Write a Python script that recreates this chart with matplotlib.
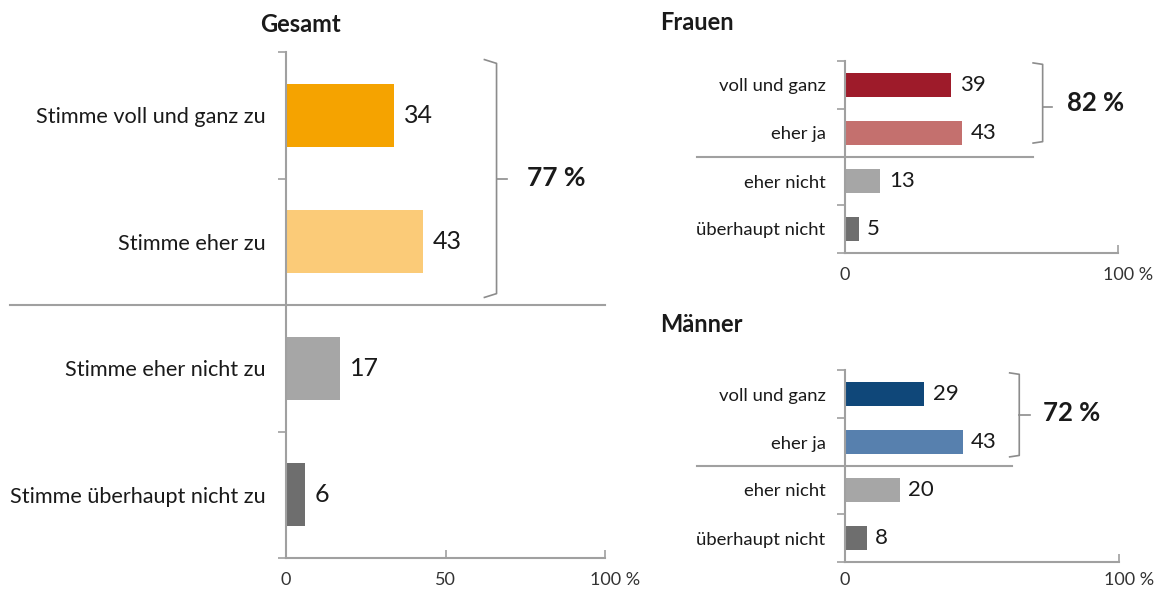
import matplotlib.pyplot as plt
import matplotlib.transforms as mtransforms
import numpy as np

plt.rcParams['font.family'] = ['Lato', 'DejaVu Sans']

# data
gesamt_labels = ['Stimme voll und ganz zu', 'Stimme eher zu', 'Stimme eher nicht zu', 'Stimme überhaupt nicht zu']
gesamt_values = [34, 43, 17, 6]
gesamt_sum = '77 %'

sub_labels = ['voll und ganz', 'eher ja', 'eher nicht', 'überhaupt nicht']
frauen_values = [39, 43, 13, 5]
frauen_sum = '82 %'
maenner_values = [29, 43, 20, 8]
maenner_sum = '72 %'

ORANGE = ['#F5A300', '#FBCB78', '#A6A6A6', '#6E6E6E']
RED = ['#9E1B2A', '#C4706E', '#A6A6A6', '#6E6E6E']
BLUE = ['#0F4779', '#5780AE', '#A6A6A6', '#6E6E6E']
AXC = '#A0A0A0'
TXT = '#1a1a1a'

W, H = 1154, 590
fig = plt.figure(figsize=(W / 100, H / 100), dpi=100)


def px_axes(x0, y0, x1, y1):
    # pixel box (top-left origin) -> axes
    return fig.add_axes([x0 / W, 1 - y1 / H, (x1 - x0) / W, (y1 - y0) / H])


def panel(ax, labels, values, colors, xticks, xticklabels, lab_fs, val_fs, lab_pad, val_pad, xpad=10):
    y = np.arange(len(values))
    bars = ax.barh(y, values, height=0.5, color=colors)
    ax.bar_label(bars, labels=[str(v) for v in values], padding=val_pad,
                 fontsize=val_fs, color=TXT)
    ax.set_xlim(0, 100)
    ax.set_ylim(len(values) - 0.5, -0.5)
    ax.set_yticks(y)
    ax.set_yticklabels(labels, fontsize=lab_fs, color=TXT)
    ax.set_yticks(np.arange(len(values) + 1) - 0.5, minor=True)
    ax.tick_params(axis='y', which='major', length=0, pad=lab_pad)
    ax.tick_params(axis='y', which='minor', length=6, color=AXC, width=1.2)
    ax.set_xticks(xticks)
    ax.set_xticklabels(xticklabels, fontsize=13, color='#333333')
    ax.tick_params(axis='x', length=6, direction='in', color=AXC, width=1.2, pad=xpad)
    # "100" centred on its tick, the % sign hangs to the right
    last = ax.get_xticklabels()[-1]
    last.set_transform(last.get_transform() +
                       mtransforms.ScaledTranslation(10 / 100, 0, fig.dpi_scale_trans))
    for s in ['top', 'right']:
        ax.spines[s].set_visible(False)
    for s in ['left', 'bottom']:
        ax.spines[s].set_color(AXC)
        ax.spines[s].set_linewidth(1.5)


def brace(ax, x, w, top, bot, mid, stub):
    kw = dict(color='#8C8C8C', lw=1.2, clip_on=False)
    ax.plot([x - w, x, x, x - w], [top, top + 0.03, bot - 0.03, bot], **kw)
    ax.plot([x, x + stub], [mid, mid], **kw)


# Gesamt
ax1 = px_axes(286, 52, 605, 558)
panel(ax1, gesamt_labels, gesamt_values, ORANGE, [0, 50, 100], ['0', '50', '100 %'], 15.6, 18, 15, 7)
ax1.axhline(1.5, xmin=-0.865, xmax=1.0, color=AXC, lw=1.5, clip_on=False)
brace(ax1, 66, 3.8, -0.44, 1.44, 0.5, 3.2)
ax1.text(75.5, 0.5, gesamt_sum, fontsize=19, fontweight='bold', va='center', color=TXT)
fig.text(300 / W, 1 - 24 / H, 'Gesamt', fontsize=17, fontweight='bold',
         ha='center', va='center', color=TXT)

# Frauen
ax2 = px_axes(845, 61, 1118, 253)
panel(ax2, sub_labels, frauen_values, RED, [0, 100], ['0', '100 %'], 13.3, 16, 14, 6)
ax2.axhline(1.5, xmin=-0.542, xmax=0.689, color=AXC, lw=1.5, clip_on=False)
brace(ax2, 72.4, 3.5, -0.46, 1.21, 0.45, 3.5)
ax2.text(81.5, 0.38, frauen_sum, fontsize=18.5, fontweight='bold', va='center', color=TXT)
fig.text(660 / W, 1 - 23 / H, 'Frauen', fontsize=17, fontweight='bold',
         ha='left', va='center', color=TXT)

# Männer
ax3 = px_axes(845, 370, 1119, 562)
panel(ax3, sub_labels, maenner_values, BLUE, [0, 100], ['0', '100 %'], 13.3, 16, 14, 6, xpad=7)
ax3.axhline(1.5, xmin=-0.54, xmax=0.609, color=AXC, lw=1.5, clip_on=False)
brace(ax3, 63.6, 3.5, -0.44, 1.31, 0.44, 3.8)
ax3.text(72.3, 0.4, maenner_sum, fontsize=18.5, fontweight='bold', va='center', color=TXT)
fig.text(660 / W, 1 - 324 / H, 'Männer', fontsize=17, fontweight='bold',
         ha='left', va='center', color=TXT)

fig.savefig('out.png', dpi=100)
